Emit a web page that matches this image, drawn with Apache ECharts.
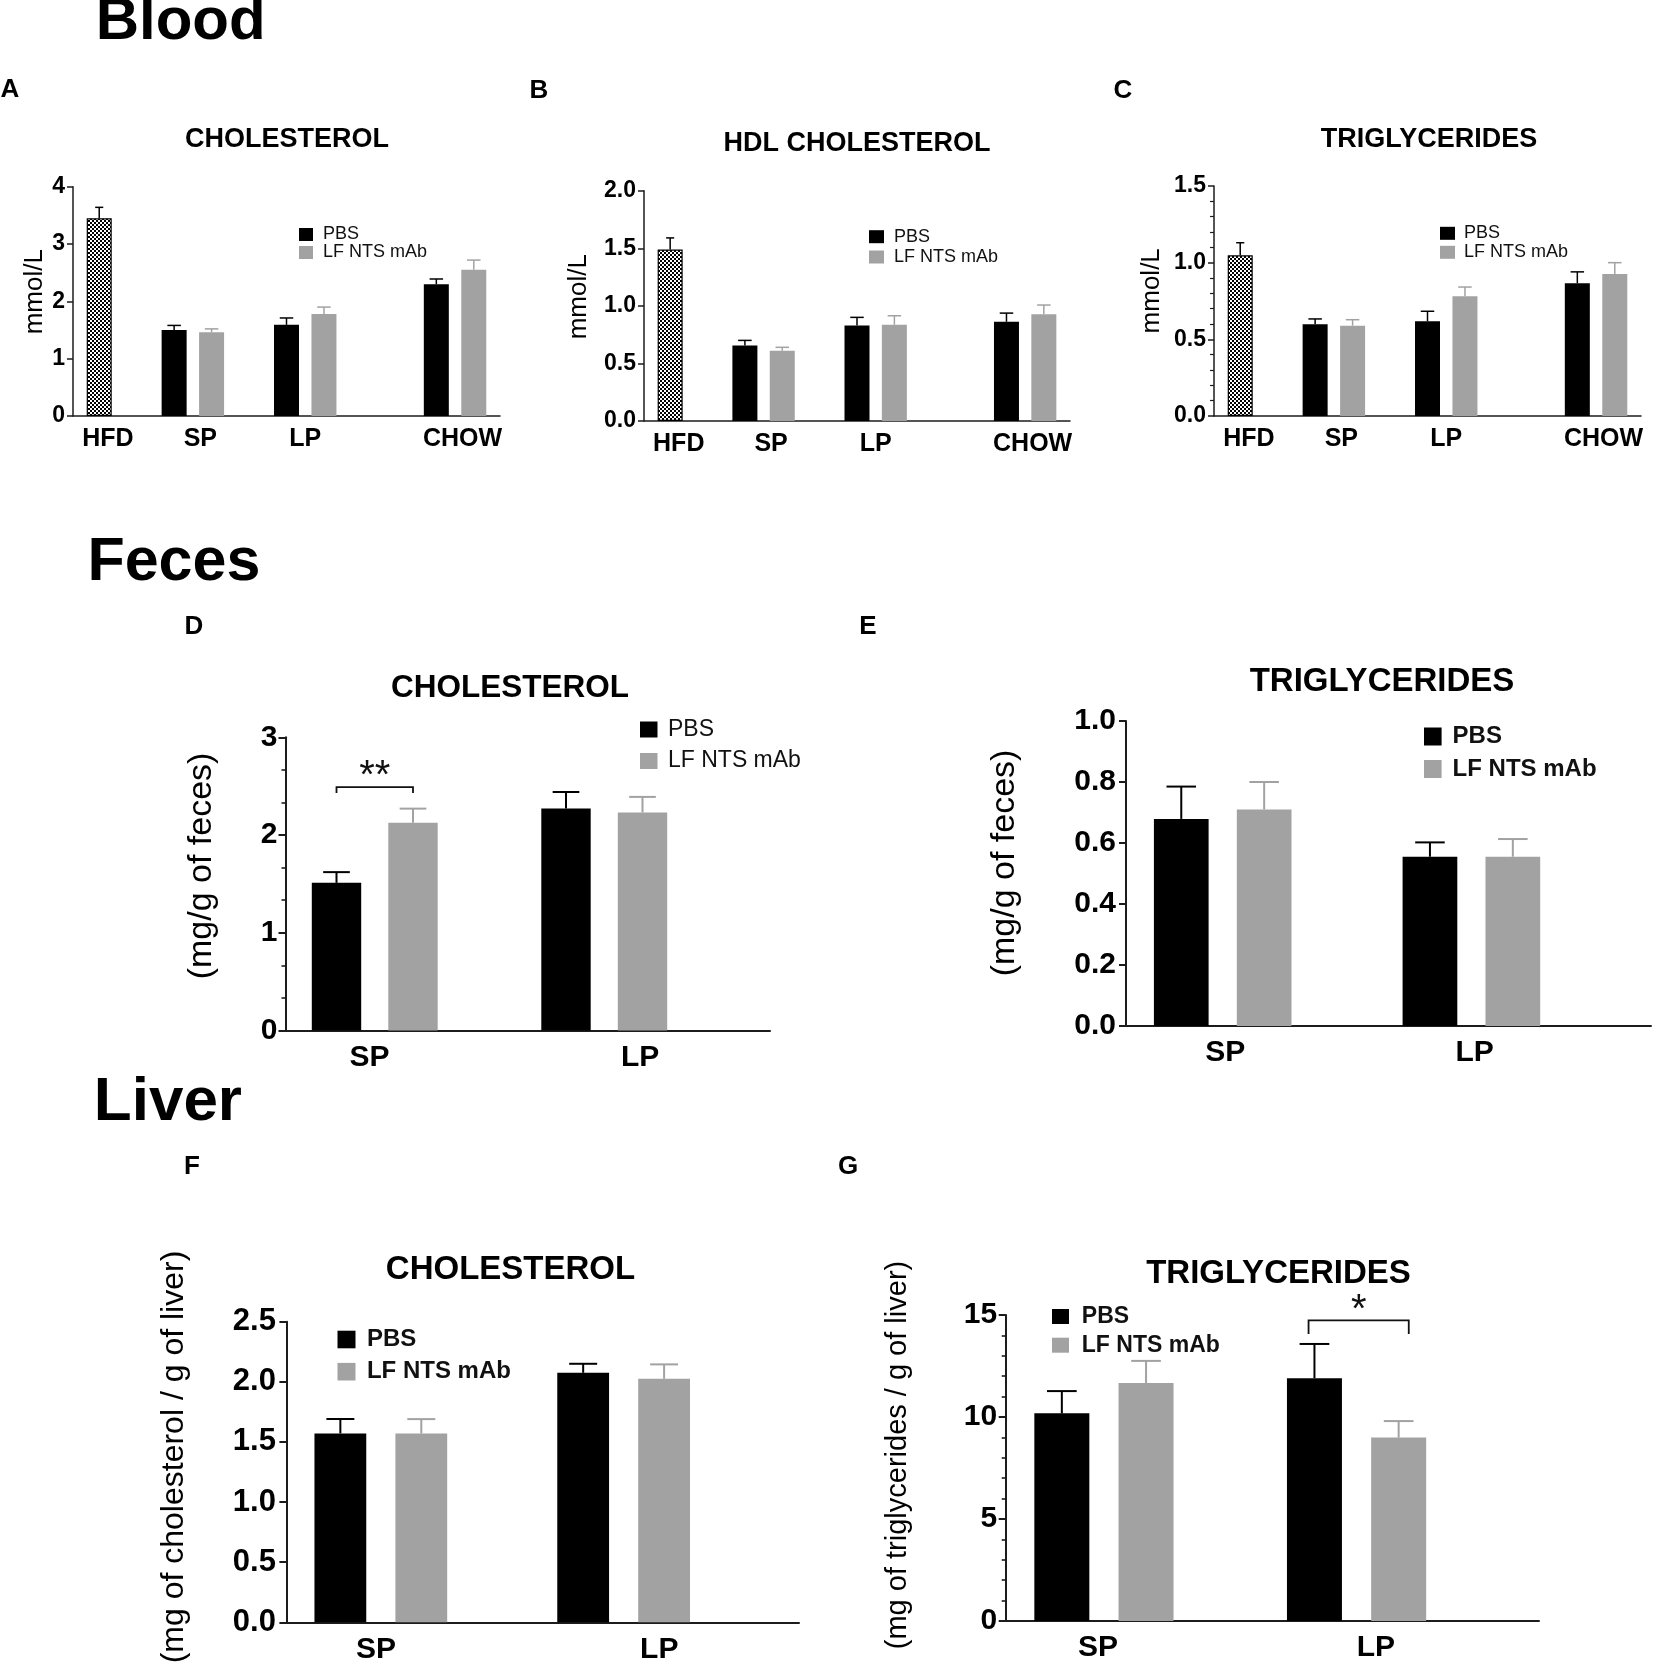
<!DOCTYPE html>
<html>
<head>
<meta charset="utf-8">
<script src="https://cdn.jsdelivr.net/npm/echarts@6/dist/echarts.min.js"></script>
<style>
html,body{margin:0;padding:0;background:#fff;}
#c{width:1654px;height:1672px;}
</style>
</head>
<body>
<div id="c"></div>
<script>
// ---------------- DATA ----------------
const BLOOD_GROUPS = ['HFD', 'SP', 'LP', 'CHOW'];
const PAIR_GROUPS = ['SP', 'LP'];
const SERIES_NAMES = ['PBS', 'LF NTS mAb'];

// A - Blood cholesterol (mmol/L); PBS/LF values for SP, LP, CHOW
const A_HFD_MEAN = [3.45];  const A_HFD_SEM = [0.19];
const A_PBS_MEAN = [1.50, 1.59, 2.30]; const A_PBS_SEM = [0.08, 0.12, 0.09];
const A_LF_MEAN  = [1.46, 1.78, 2.55]; const A_LF_SEM  = [0.06, 0.12, 0.17];
// B - Blood HDL cholesterol
const B_HFD_MEAN = [1.49];  const B_HFD_SEM = [0.10];
const B_PBS_MEAN = [0.655, 0.83, 0.862]; const B_PBS_SEM = [0.045, 0.07, 0.075];
const B_LF_MEAN  = [0.61, 0.836, 0.926]; const B_LF_SEM  = [0.03, 0.078, 0.081];
// C - Blood triglycerides
const C_HFD_MEAN = [1.048]; const C_HFD_SEM = [0.082];
const C_PBS_MEAN = [0.598, 0.618, 0.866]; const C_PBS_SEM = [0.035, 0.065, 0.074];
const C_LF_MEAN  = [0.589, 0.781, 0.926]; const C_LF_SEM  = [0.039, 0.06, 0.074];
// D - Feces cholesterol (mg/g); SP, LP
const D_PBS_MEAN = [1.51, 2.27];  const D_PBS_SEM = [0.11, 0.17];
const D_LF_MEAN  = [2.126, 2.23]; const D_LF_SEM  = [0.144, 0.16];
// E - Feces triglycerides
const E_PBS_MEAN = [0.679, 0.555]; const E_PBS_SEM = [0.106, 0.047];
const E_LF_MEAN  = [0.71, 0.555];  const E_LF_SEM  = [0.09, 0.058];
// F - Liver cholesterol
const F_PBS_MEAN = [1.571, 2.075]; const F_PBS_SEM = [0.12, 0.075];
const F_LF_MEAN  = [1.57, 2.025];  const F_LF_SEM  = [0.12, 0.12];
// G - Liver triglycerides
const G_PBS_MEAN = [10.18, 11.9]; const G_PBS_SEM = [1.09, 1.68];
const G_LF_MEAN  = [11.67, 8.99]; const G_LF_SEM  = [1.08, 0.81];

// ---------------- LAYOUT ----------------
const FONT = '"Liberation Sans", Arial, Helvetica, sans-serif';
const BLACK = '#000000', GRAY = '#a2a2a2', AXIS = '#1c1c1c';

// slot positions on the x value axis
const ROW1_X = [-0.7, 10.7];
const PAIR_X = [-2 / 3, 17 / 3];
const BLOOD_HFD_SLOT = [0];
const BLOOD_PBS_SLOTS = [2, 5, 9];
const BLOOD_LF_SLOTS = [3, 6, 10];
const BLOOD_LABEL_POS = [0.23, 2.7, 5.5, 9.7];
const PAIR_PBS_SLOTS = [0, 3];
const PAIR_LF_SLOTS = [1, 4];

function checkerPattern() {
  const c = document.createElement('canvas');
  c.width = 4; c.height = 4;
  const g = c.getContext('2d');
  g.fillStyle = '#ffffff'; g.fillRect(0, 0, 4, 4);
  g.fillStyle = '#000000'; g.fillRect(0, 0, 2, 2); g.fillRect(2, 2, 2, 2);
  return c;
}
const PATTERN = checkerPattern();

const row1Common = { x: ROW1_X, dec: 0, barW: 25, lineW: 1.5, tickLen: 6, tickFont: 23, tickMargin: 8, xFont: 25, xMargin: 11,
  labels: BLOOD_GROUPS, labelPos: BLOOD_LABEL_POS, pbsSlots: BLOOD_PBS_SLOTS, lfSlots: BLOOD_LF_SLOTS, hfdSlots: BLOOD_HFD_SLOT };
const pairCommon = { x: PAIR_X, lineW: 2, tickLen: 7, xFont: 30, xMargin: 12, labels: PAIR_GROUPS,
  pbsSlots: PAIR_PBS_SLOTS, lfSlots: PAIR_LF_SLOTS };

const panels = [
  Object.assign({}, row1Common, {
    grid: { left: 73, top: 186.7, width: 427, height: 229.3 }, yMax: 4, yInt: 1, dec: 0, minor: 0,
    hfd: [A_HFD_MEAN, A_HFD_SEM], pbs: [A_PBS_MEAN, A_PBS_SEM], lf: [A_LF_MEAN, A_LF_SEM],
    legend: { left: 299, top: 225.5, w: 14, h: 13, font: 18, weight: 'normal', gap: 0, pad: 5 },
    title: { text: 'CHOLESTEROL', x: 287, y: 140, size: 27 },
    yName: { text: 'mmol/L', x: 34.5, y: 291.7, size: 26 },
    letter: { text: 'A', x: 10, y: 90 }
  }),
  Object.assign({}, row1Common, {
    grid: { left: 644, top: 190.7, width: 426, height: 230.3 }, yMax: 2, yInt: 0.5, dec: 1, minor: 0,
    hfd: [B_HFD_MEAN, B_HFD_SEM], pbs: [B_PBS_MEAN, B_PBS_SEM], lf: [B_LF_MEAN, B_LF_SEM],
    legend: { left: 869, top: 227.7, w: 15, h: 13, font: 18, weight: 'normal', gap: 2.3, pad: 5 },
    title: { text: 'HDL CHOLESTEROL', x: 857, y: 143.3, size: 27 },
    yName: { text: 'mmol/L', x: 579, y: 296.7, size: 26 },
    letter: { text: 'B', x: 539, y: 91 }
  }),
  Object.assign({}, row1Common, {
    grid: { left: 1214, top: 186, width: 427, height: 230 }, yMax: 1.5, yInt: 0.5, dec: 1, minor: 5,
    hfd: [C_HFD_MEAN, C_HFD_SEM], pbs: [C_PBS_MEAN, C_PBS_SEM], lf: [C_LF_MEAN, C_LF_SEM],
    legend: { left: 1440, top: 224.3, w: 15, h: 13, font: 18, weight: 'normal', gap: 1, pad: 4 },
    title: { text: 'TRIGLYCERIDES', x: 1429, y: 139.3, size: 27 },
    yName: { text: 'mmol/L', x: 1152, y: 290.8, size: 26 },
    letter: { text: 'C', x: 1123, y: 91 }
  }),
  Object.assign({}, pairCommon, {
    grid: { left: 285.5, top: 737.3, width: 484.5, height: 293.1 }, yMax: 3, yInt: 1, dec: 0, minor: 3,
    pbs: [D_PBS_MEAN, D_PBS_SEM], lf: [D_LF_MEAN, D_LF_SEM], barW: 49.4, tickFont: 30, tickMargin: 8,
    labelPos: [0.43, 3.97],
    legend: { left: 640, top: 718, w: 17.5, h: 16, font: 23, weight: 'normal', gap: 8.5, pad: 5.5 },
    title: { text: 'CHOLESTEROL', x: 510, y: 688.3, size: 31.5 },
    yName: { text: '(mg/g of feces)', x: 202, y: 866, size: 34 },
    letter: { text: 'D', x: 194, y: 627 },
    sig: { x1: 0, x2: 1, y: 2.49, yEnd: 2.43, text: '**', size: 40, off: 9.8 }
  }),
  Object.assign({}, pairCommon, {
    grid: { left: 1126, top: 721, width: 525, height: 305 }, yMax: 1, yInt: 0.2, dec: 1, minor: 0,
    pbs: [E_PBS_MEAN, E_PBS_SEM], lf: [E_LF_MEAN, E_LF_SEM], barW: 54.7, tickFont: 30, tickMargin: 10,
    labelPos: [0.53, 3.54],
    legend: { left: 1424, top: 724.5, w: 17.6, h: 18, font: 24, weight: 'bold', gap: 8.5, pad: 6 },
    title: { text: 'TRIGLYCERIDES', x: 1382, y: 681.7, size: 33 },
    yName: { text: '(mg/g of feces)', x: 1005, y: 863, size: 34 },
    letter: { text: 'E', x: 868, y: 627 }
  }),
  Object.assign({}, pairCommon, {
    grid: { left: 286.4, top: 1321.7, width: 512.6, height: 300.6 }, yMax: 2.5, yInt: 0.5, dec: 1, minor: 0,
    pbs: [F_PBS_MEAN, F_PBS_SEM], lf: [F_LF_MEAN, F_LF_SEM], barW: 51.8, tickFont: 31, tickMargin: 10.5,
    labelPos: [0.44, 3.94],
    legend: { left: 337.5, top: 1327.5, w: 18, h: 17.6, font: 24, weight: 'bold', gap: 8.2, pad: 6.4 },
    title: { text: 'CHOLESTEROL', x: 510.5, y: 1270, size: 33 },
    yName: { text: '(mg of cholesterol / g of liver)', x: 174, y: 1457, size: 32 },
    letter: { text: 'F', x: 192, y: 1167 }
  }),
  Object.assign({}, pairCommon, {
    grid: { left: 1005.7, top: 1315, width: 533.3, height: 306 }, yMax: 15, yInt: 5, dec: 0, minor: 5,
    pbs: [G_PBS_MEAN, G_PBS_SEM], lf: [G_LF_MEAN, G_LF_SEM], barW: 55, tickFont: 30, tickMargin: 8.5,
    labelPos: [0.43, 3.73],
    legend: { left: 1052, top: 1305, w: 17, h: 15, font: 23, weight: 'bold', gap: 5.7, pad: 7.8 },
    title: { text: 'TRIGLYCERIDES', x: 1278.5, y: 1274, size: 33 },
    yName: { text: '(mg of triglycerides / g of liver)', x: 897.5, y: 1455, size: 29 },
    letter: { text: 'G', x: 848, y: 1167 },
    sig: { x1: 2.93, x2: 4.12, y: 14.74, yEnd: 14.07, text: '*', size: 40, off: 8.9 }
  })
];

const HEADERS = [
  { text: 'Blood', x: 95.7, y: 22, size: 60 },
  { text: 'Feces', x: 87.4, y: 563, size: 61 },
  { text: 'Liver', x: 93.8, y: 1103, size: 62 }
];

// ---------------- BUILD ----------------
function txt(x, y, text, size, weight, align, rotation) {
  return {
    type: 'text', x: x, y: y, rotation: rotation || 0, silent: true,
    style: { text: text, fontFamily: FONT, fontSize: size, fontWeight: weight, fill: '#000',
      textAlign: align || 'center', textVerticalAlign: 'middle' }
  };
}

function errSeries(i, slots, stats, color, barW, lw) {
  return {
    type: 'custom', name: 'err', xAxisIndex: i, yAxisIndex: i, silent: true, clip: false, z: 5,
    data: slots.map((s, k) => [s, stats[0][k], stats[1][k]]),
    encode: { x: 0, y: 1 },
    renderItem: function (params, api) {
      const x = api.value(0), y = api.value(1), e = api.value(2);
      const p0 = api.coord([x, y]), p1 = api.coord([x, y + e]);
      const hw = barW * 0.27;
      return { type: 'group', children: [
        { type: 'line', shape: { x1: p0[0], y1: p0[1], x2: p1[0], y2: p1[1] }, style: { stroke: color, lineWidth: lw } },
        { type: 'line', shape: { x1: p1[0] - hw, y1: p1[1], x2: p1[0] + hw, y2: p1[1] }, style: { stroke: color, lineWidth: lw } }
      ] };
    }
  };
}

function barSeries(i, name, slots, stats, color, barW, extra) {
  return Object.assign({
    type: 'bar', name: name, xAxisIndex: i, yAxisIndex: i, barWidth: barW, barGap: '-100%',
    silent: true, z: 2,
    data: slots.map((s, k) => [s, stats[0][k]]),
    itemStyle: { color: color }
  }, extra || {});
}

const option = {
  animation: false,
  backgroundColor: '#ffffff',
  textStyle: { fontFamily: FONT },
  grid: [], xAxis: [], yAxis: [], series: [], legend: [], graphic: []
};

panels.forEach(function (p, i) {
  option.grid.push(Object.assign({ containLabel: false, outerBoundsMode: 'none' }, p.grid));
  option.xAxis.push({
    type: 'value', gridIndex: i, min: p.x[0], max: p.x[1],
    axisLine: { show: true, onZero: false, lineStyle: { color: AXIS, width: p.lineW } },
    axisTick: { show: false }, splitLine: { show: false }, minorTick: { show: false },
    axisLabel: {
      show: true, customValues: p.labelPos, margin: p.xMargin,
      formatter: function (v) {
        const k = p.labelPos.findIndex(q => Math.abs(q - v) < 1e-6);
        return k >= 0 ? p.labels[k] : '';
      },
      fontFamily: FONT, fontSize: p.xFont, fontWeight: 'bold', color: '#000'
    }
  });
  option.yAxis.push({
    type: 'value', gridIndex: i, min: 0, max: p.yMax, interval: p.yInt,
    axisLine: { show: true, onZero: false, lineStyle: { color: AXIS, width: p.lineW } },
    axisTick: { show: true, inside: false, length: p.tickLen, lineStyle: { color: AXIS, width: p.lineW } },
    minorTick: { show: p.minor > 0, splitNumber: p.minor || 5, length: Math.round(p.tickLen * 0.6), lineStyle: { color: AXIS, width: p.lineW * 0.8 } },
    splitLine: { show: false }, minorSplitLine: { show: false },
    axisLabel: {
      formatter: function (v) { return v.toFixed(p.dec); }, margin: p.tickMargin,
      fontFamily: FONT, fontSize: p.tickFont, fontWeight: 'bold', color: '#000'
    }
  });

  if (p.hfd) {
    option.series.push(barSeries(i, 'HFD', p.hfdSlots, p.hfd, BLACK, p.barW,
      { itemStyle: { color: { image: PATTERN, repeat: 'repeat' }, borderColor: '#000', borderWidth: 1.2 } }));
  }
  option.series.push(barSeries(i, SERIES_NAMES[0], p.pbsSlots, p.pbs, BLACK, p.barW));
  option.series.push(barSeries(i, SERIES_NAMES[1], p.lfSlots, p.lf, GRAY, p.barW));
  if (p.hfd) option.series.push(errSeries(i, p.hfdSlots, p.hfd, BLACK, p.barW * 0.6, p.lineW));
  option.series.push(errSeries(i, p.pbsSlots, p.pbs, BLACK, p.barW, p.lineW));
  option.series.push(errSeries(i, p.lfSlots, p.lf, GRAY, p.barW, p.lineW));

  if (p.sig) {
    const s = p.sig;
    option.series.push({
      type: 'custom', name: 'sig', xAxisIndex: i, yAxisIndex: i, silent: true, clip: false, z: 6,
      data: [[s.x1, s.x2, s.y, s.yEnd]], encode: { x: [0, 1], y: [2, 3] },
      renderItem: function (params, api) {
        const a = api.coord([api.value(0), api.value(3)]);
        const b = api.coord([api.value(0), api.value(2)]);
        const c = api.coord([api.value(1), api.value(2)]);
        const d = api.coord([api.value(1), api.value(3)]);
        return { type: 'group', children: [
          { type: 'polyline', shape: { points: [a, b, c, d] }, style: { stroke: '#111', lineWidth: p.lineW * 0.9, fill: null } },
          { type: 'text', x: (b[0] + c[0]) / 2, y: b[1] - s.off,
            style: { text: s.text, fontFamily: FONT, fontSize: s.size, fontWeight: 'normal', fill: '#111',
              textAlign: 'center', textVerticalAlign: 'middle' } }
        ] };
      }
    });
  }

  const L = p.legend;
  option.legend.push({
    data: SERIES_NAMES, orient: 'vertical', left: L.left, top: L.top, padding: 0,
    itemWidth: L.w, itemHeight: L.h, itemGap: L.gap, icon: 'rect', selectedMode: false,
    textStyle: { fontFamily: FONT, fontSize: L.font, fontWeight: L.weight, color: '#111', padding: [0, 0, 0, L.pad] }
  });

  option.graphic.push(txt(p.title.x, p.title.y, p.title.text, p.title.size, 'bold'));
  option.graphic.push(txt(p.yName.x, p.yName.y, p.yName.text, p.yName.size, 'normal', 'center', Math.PI / 2));
  option.graphic.push(txt(p.letter.x, p.letter.y, p.letter.text, 26, 'bold'));
});

HEADERS.forEach(function (h) {
  option.graphic.push(txt(h.x, h.y, h.text, h.size, 'bold', 'left'));
});

const chart = echarts.init(document.getElementById('c'), null, { renderer: 'canvas', width: 1654, height: 1672 });
chart.setOption(option);
</script>
</body>
</html>
